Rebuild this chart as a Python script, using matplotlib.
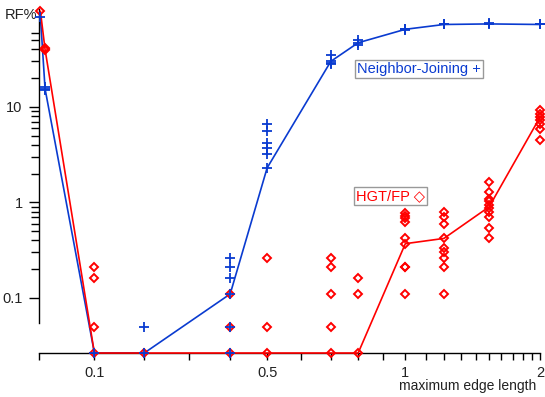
import numpy as np
import matplotlib
matplotlib.use('Agg')
from matplotlib import pyplot as plt
from matplotlib.ticker import FixedLocator, NullFormatter, FixedFormatter

plt.rcParams['font.family'] = ['Liberation Sans', 'DejaVu Sans']

# maximum edge length values (one column of replicates each)
edge_len = [0.002, 0.01, 0.1, 0.2, 0.4, 0.5, 0.7, 0.8, 1.0, 1.2, 1.5, 2.0]

# Neighbor-Joining RF% (0 = no error, drawn on the bottom axis)
nj_line = [87, 15.5, 0, 0, 0.11, 2.3, 30, 47, 65, 73, 74, 73]
nj_reps = [
    [87],
    [16.2, 15, 15.5],
    [0],
    [0.05, 0],
    [0.26, 0.21, 0.16, 0.11, 0.05, 0],
    [6.6, 5.6, 4.2, 3.7, 3.2, 2.3],
    [35, 30, 29, 28],
    [50, 47, 45],
    [66, 65, 64],
    [74, 73],
    [75, 74],
    [74, 73],
]

# HGT/FP RF%
hgt_line = [100, 40, 0, 0, 0, 0, 0, 0, 0.37, 0.42, 0.9, 7.8]
hgt_reps = [
    [100],
    [41, 40, 39.5],
    [0.21, 0.16, 0.05, 0],
    [0],
    [0.11, 0.05, 0],
    [0.26, 0.05, 0],
    [0.26, 0.21, 0.11, 0.05, 0],
    [0.16, 0.11, 0],
    [0.77, 0.72, 0.68, 0.63, 0.42, 0.37, 0.21, 0.21, 0.11],
    [0.80, 0.70, 0.59, 0.42, 0.33, 0.30, 0.26, 0.21, 0.11],
    [1.65, 1.28, 1.09, 1.03, 0.93, 0.88, 0.80, 0.71, 0.54, 0.42],
    [9.3, 8.5, 7.9, 7.3, 6.6, 5.9, 4.5],
]

x_ticks = [0.1, 0.5, 1, 2]
x_ticklabels = ['0.1', '0.5', '1', '2']
y_ticks = [0.1, 1, 10]
y_ticklabels = ['0.1', '1', '10']

blue = '#0a3bd0'
red = '#ff0000'
y_floor = 0.0265


def floor(v):
    return np.maximum(np.asarray(v, dtype=float), y_floor)


def fwd(x):
    return 1 - np.exp(-np.asarray(x, dtype=float))


def inv(y):
    with np.errstate(divide='ignore', invalid='ignore'):
        return -np.log(1 - np.asarray(y, dtype=float))


fig = plt.figure(figsize=(5.45, 3.97), dpi=100)
ax = fig.add_axes([0.0721, 0.1108, 0.9187, 0.8655])
ax.set_xscale('function', functions=(fwd, inv))
ax.set_yscale('log')
ax.set_xlim(0, 2)
ax.set_ylim(y_floor, 105)

ax.plot(edge_len, floor(nj_line), color=blue, lw=1.2, clip_on=False, zorder=2)
ax.plot(edge_len, floor(hgt_line), color=red, lw=1.2, clip_on=False, zorder=3)

for x, reps in zip(edge_len, hgt_reps):
    ax.plot([x] * len(reps), floor(reps), ls='none', marker='D', ms=4.3,
            mfc='none', mec=red, mew=1.4, clip_on=False, zorder=4)
for x, reps in zip(edge_len, nj_reps):
    ax.plot([x] * len(reps), floor(reps), ls='none', marker='+', ms=6.5,
            mec=blue, mew=1.3, clip_on=False, zorder=5)

for s in ['top', 'right']:
    ax.spines[s].set_visible(False)
ax.spines['left'].set_bounds(0.055, 105)
ax.spines['left'].set_linewidth(1.0)
ax.spines['bottom'].set_linewidth(1.0)

ax.xaxis.set_major_locator(FixedLocator(x_ticks))
ax.xaxis.set_major_formatter(FixedFormatter(x_ticklabels))
ax.xaxis.set_minor_locator(FixedLocator(np.arange(0, 2.01, 0.1)))
ax.xaxis.set_minor_formatter(NullFormatter())
ax.tick_params(axis='x', which='both', length=5, width=1, pad=4,
               labelsize=10.5, labelcolor='#222222')

minor_y = [m * d for d in [0.1, 1] for m in range(2, 10)] + [20, 30, 40, 50, 60]
ax.yaxis.set_major_locator(FixedLocator(y_ticks))
ax.yaxis.set_major_formatter(FixedFormatter(y_ticklabels))
ax.yaxis.set_minor_locator(FixedLocator(minor_y))
ax.yaxis.set_minor_formatter(NullFormatter())
ax.tick_params(axis='y', which='major', length=7, width=1, pad=5,
               labelsize=10.5, labelcolor='#222222')
ax.tick_params(axis='y', which='minor', length=6, width=1)

ax.text(-0.005, 0.984, 'RF%', transform=ax.transAxes, ha='right', va='center',
        fontsize=10.5, color='#222222')
ax.text(0.992, -0.096, 'maximum edge length', transform=ax.transAxes,
        ha='right', va='center', fontsize=10, color='#222222', clip_on=False)

box = dict(boxstyle='square,pad=0.15', fc='white', ec='#999999', lw=1)
ax.text(0.759, 0.827, 'Neighbor-Joining +', transform=ax.transAxes,
        ha='center', va='center', fontsize=10.5, color=blue, bbox=box, zorder=6)
ax.text(0.702, 0.457, 'HGT/FP \u25c7', transform=ax.transAxes,
        ha='center', va='center', fontsize=10.5, color=red, bbox=box, zorder=6)

fig.savefig('out.png', dpi=100)
